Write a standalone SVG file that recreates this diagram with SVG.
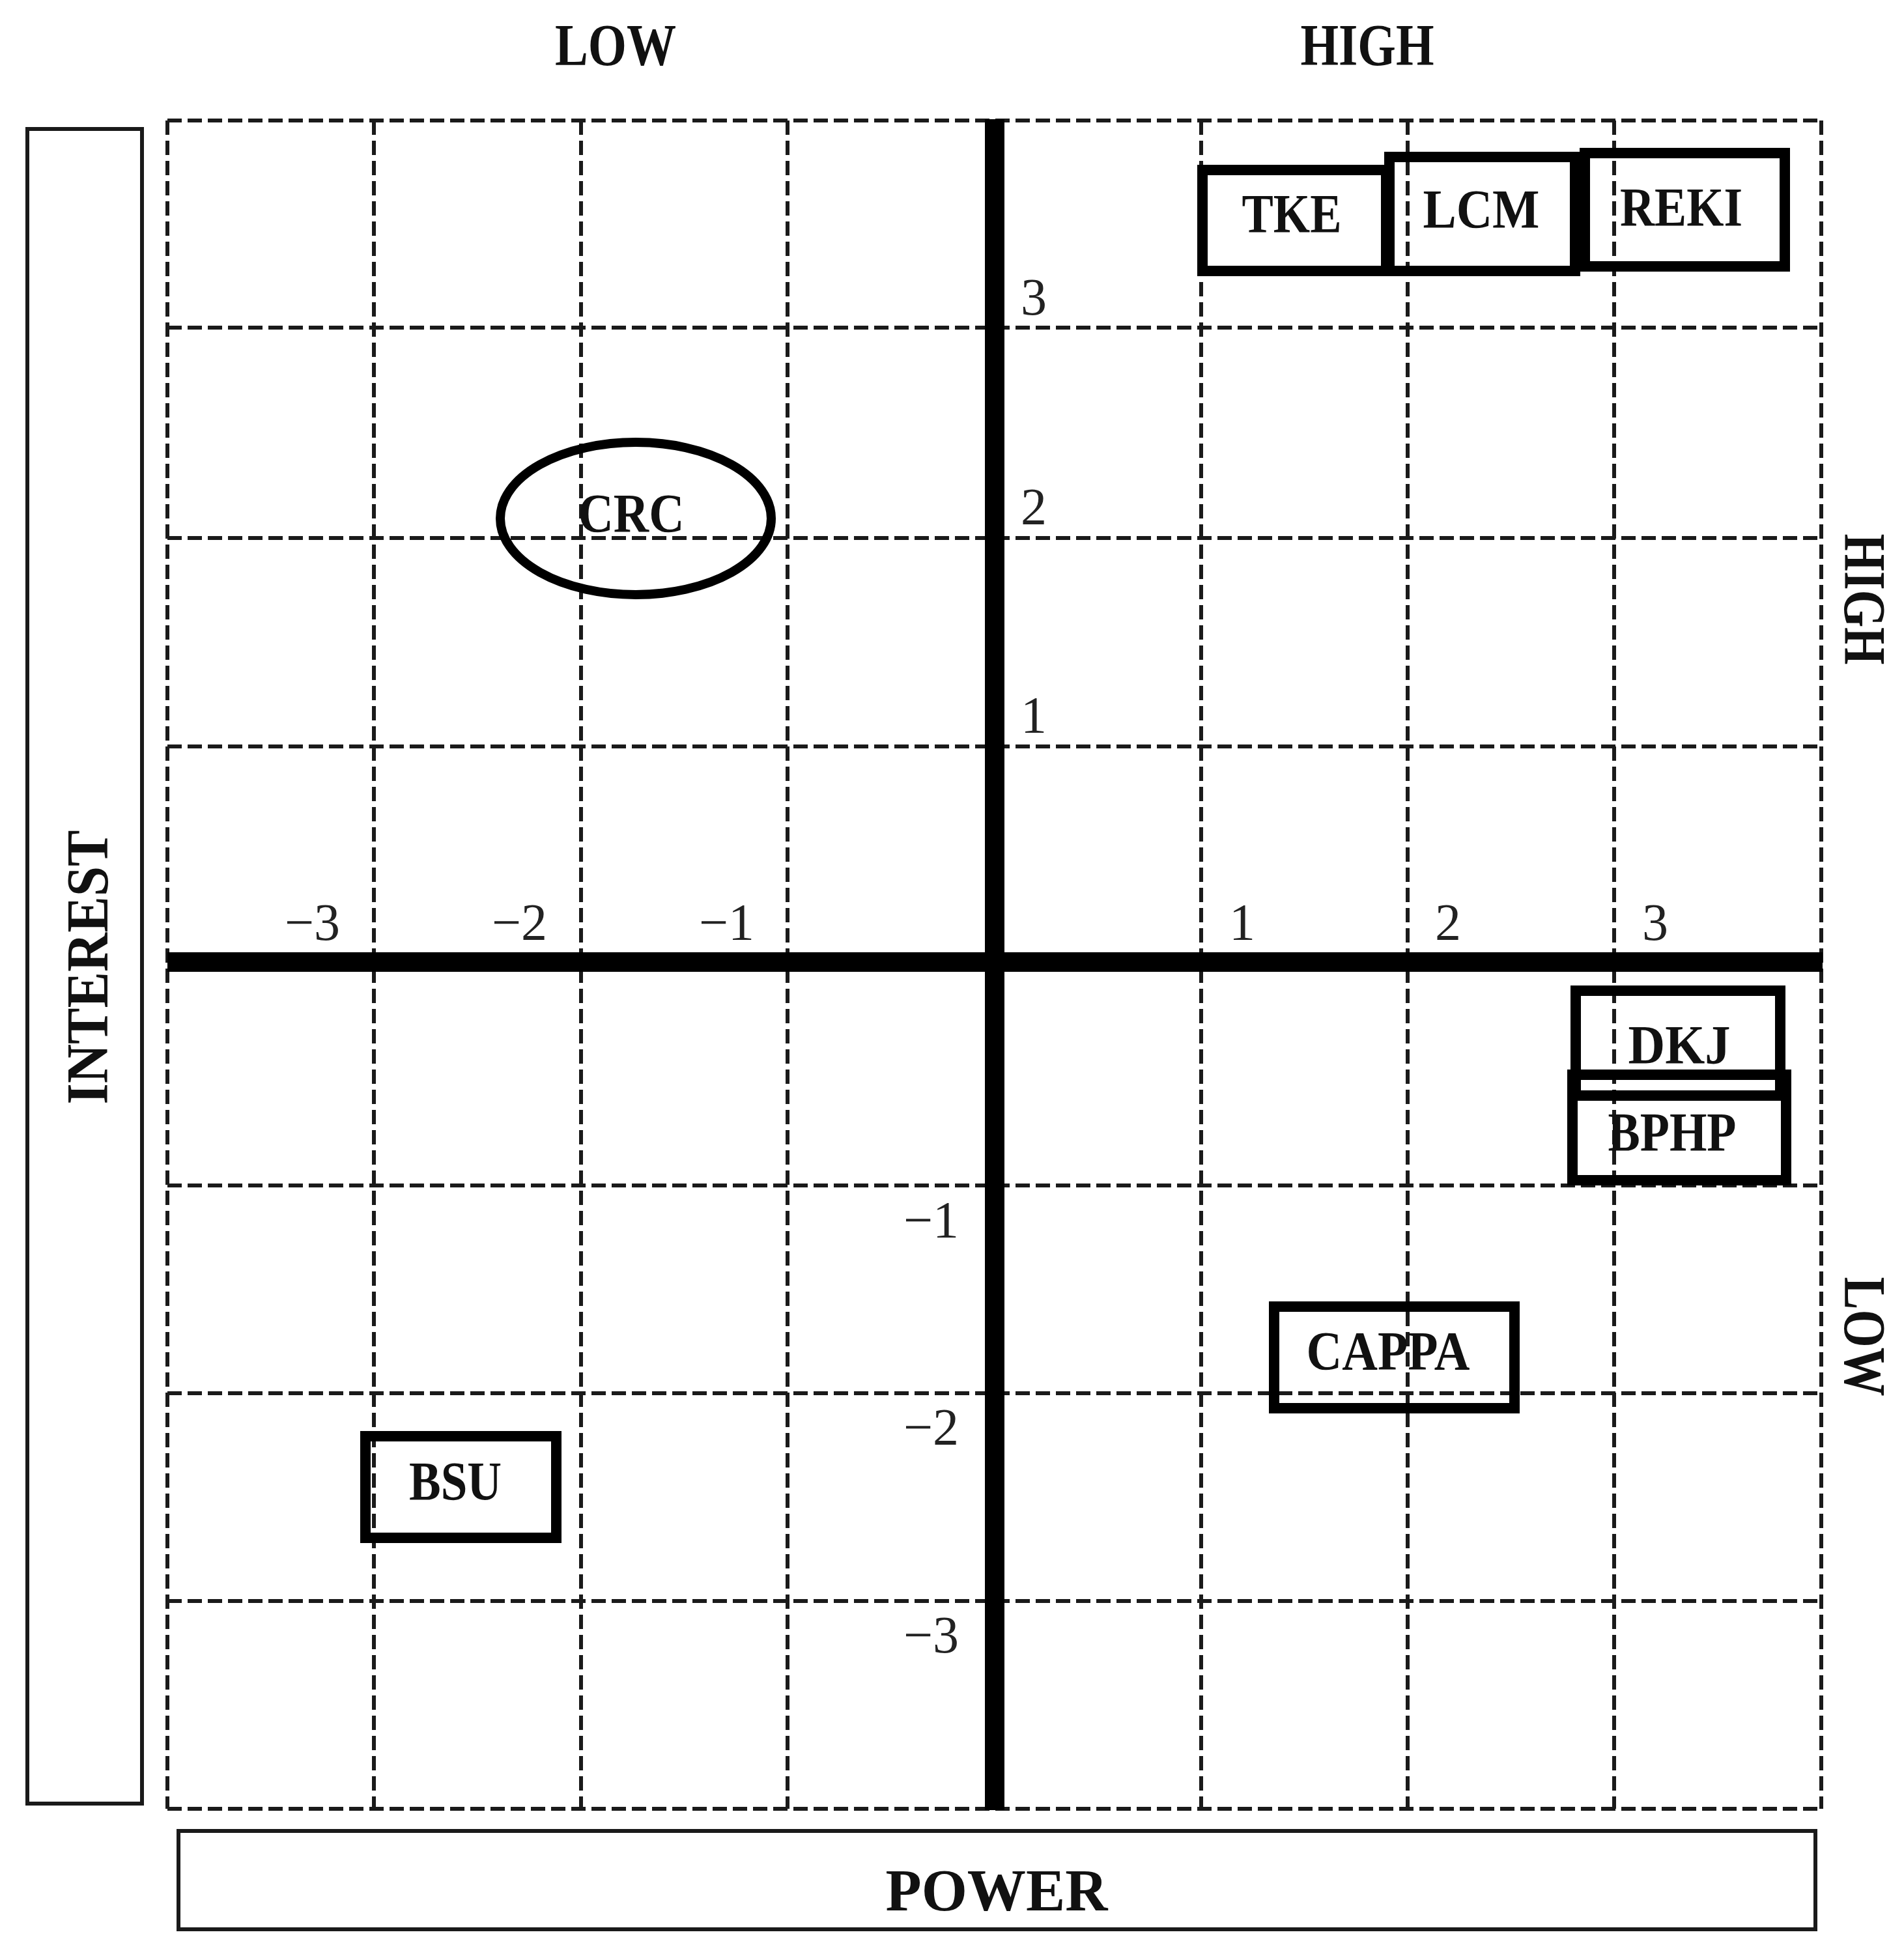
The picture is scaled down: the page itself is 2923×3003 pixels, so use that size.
<svg xmlns="http://www.w3.org/2000/svg" width="2923" height="3003" viewBox="0 0 2923 3003">
<style>
.bg{fill:#fff}
.grid{stroke:#1a1a1a;stroke-width:6;stroke-dasharray:22 9;fill:none}
.axis{stroke:#000;stroke-width:30;fill:none}
.frame{stroke:#1a1a1a;stroke-width:6;fill:none}
.node{stroke:#000;stroke-width:16;fill:none}
.lbl{font-family:"Liberation Serif","Times New Roman",serif;font-weight:bold;fill:#111;font-size:84px}
.big{font-family:"Liberation Serif","Times New Roman",serif;font-weight:bold;fill:#111;font-size:90px}
.num{font-family:"Liberation Serif","Times New Roman",serif;fill:#222;font-size:80px}
</style>
<rect class="bg" x="0" y="0" width="2923" height="3003"/>

<g id="grid">
  <line class="grid" x1="257" y1="185" x2="257" y2="2777"/>
  <line class="grid" x1="574" y1="185" x2="574" y2="2777"/>
  <line class="grid" x1="892" y1="185" x2="892" y2="2777"/>
  <line class="grid" x1="1209" y1="185" x2="1209" y2="2777"/>
  <line class="grid" x1="1844" y1="185" x2="1844" y2="2777"/>
  <line class="grid" x1="2161" y1="185" x2="2161" y2="2777"/>
  <line class="grid" x1="2478" y1="185" x2="2478" y2="2777"/>
  <line class="grid" x1="2796" y1="185" x2="2796" y2="2777"/>
  <line class="grid" x1="257" y1="185" x2="2796" y2="185"/>
  <line class="grid" x1="257" y1="503" x2="2796" y2="503"/>
  <line class="grid" x1="257" y1="826" x2="2796" y2="826"/>
  <line class="grid" x1="257" y1="1146" x2="2796" y2="1146"/>
  <line class="grid" x1="257" y1="1820" x2="2796" y2="1820"/>
  <line class="grid" x1="257" y1="2139" x2="2796" y2="2139"/>
  <line class="grid" x1="257" y1="2458" x2="2796" y2="2458"/>
  <line class="grid" x1="257" y1="2777" x2="2796" y2="2777"/>
</g>

<g id="axes">
  <line class="axis" x1="257" y1="1477" x2="2798" y2="1477"/>
  <line class="axis" x1="1527" y1="183" x2="1527" y2="2779"/>
</g>

<g id="axis-labels">
  <text class="num" x="1567" y="483">3</text>
  <text class="num" x="1567" y="805">2</text>
  <text class="num" x="1567" y="1125">1</text>
  <text class="num" x="1472" y="1900" text-anchor="end">−1</text>
  <text class="num" x="1472" y="2218" text-anchor="end">−2</text>
  <text class="num" x="1472" y="2537" text-anchor="end">−3</text>
  <text class="num" x="522" y="1443" text-anchor="end">−3</text>
  <text class="num" x="840" y="1443" text-anchor="end">−2</text>
  <text class="num" x="1158" y="1443" text-anchor="end">−1</text>
  <text class="num" x="1887" y="1443">1</text>
  <text class="num" x="2203" y="1443">2</text>
  <text class="num" x="2521" y="1443">3</text>
</g>

<g id="top-low"><text class="big" x="945" y="100" text-anchor="middle" textLength="186" lengthAdjust="spacingAndGlyphs">LOW</text></g>
<g id="top-high"><text class="big" x="2099" y="100" text-anchor="middle" textLength="205" lengthAdjust="spacingAndGlyphs">HIGH</text></g>
<g id="right-high"><text class="big" transform="translate(2832,920) rotate(90)" x="0" y="0" text-anchor="middle" textLength="201" lengthAdjust="spacingAndGlyphs">HIGH</text></g>
<g id="right-low"><text class="big" transform="translate(2832,2052) rotate(90)" x="0" y="0" text-anchor="middle" textLength="183" lengthAdjust="spacingAndGlyphs">LOW</text></g>

<g id="interest">
  <rect class="frame" x="42" y="198" width="176" height="2571"/>
  <text class="big" font-size="96" transform="translate(165,1485) rotate(-90)" x="0" y="0" text-anchor="middle" textLength="421" lengthAdjust="spacingAndGlyphs">INTEREST</text>
</g>

<g id="power">
  <rect class="frame" x="274" y="2811" width="2513" height="151"/>
  <text class="big" font-size="96" x="1530" y="2933" text-anchor="middle" textLength="341" lengthAdjust="spacingAndGlyphs">POWER</text>
</g>

<g id="node-tke">
  <rect class="node" x="1846" y="261" width="282" height="155"/>
  <text class="lbl" x="1983" y="357" text-anchor="middle" textLength="153" lengthAdjust="spacingAndGlyphs">TKE</text>
</g>
<g id="node-lcm">
  <rect class="node" x="2133" y="241" width="285" height="175"/>
  <text class="lbl" x="2274" y="350" text-anchor="middle" textLength="179" lengthAdjust="spacingAndGlyphs">LCM</text>
</g>
<g id="node-reki">
  <rect class="node" x="2433" y="235" width="307" height="174"/>
  <text class="lbl" x="2581" y="347" text-anchor="middle" textLength="188" lengthAdjust="spacingAndGlyphs">REKI</text>
</g>
<g id="node-crc">
  <ellipse cx="976" cy="796" rx="208" ry="117" fill="none" stroke="#000" stroke-width="14"/>
  <text class="lbl" x="969" y="817" text-anchor="middle" textLength="163" lengthAdjust="spacingAndGlyphs">CRC</text>
</g>
<g id="node-dkj">
  <rect class="node" x="2419" y="1521" width="314" height="161"/>
  <text class="lbl" x="2578" y="1633" text-anchor="middle" textLength="157" lengthAdjust="spacingAndGlyphs">DKJ</text>
</g>
<g id="node-bphp">
  <rect class="node" x="2414" y="1650" width="328" height="162"/>
  <text class="lbl" x="2567" y="1767" text-anchor="middle" textLength="197" lengthAdjust="spacingAndGlyphs">BPHP</text>
</g>
<g id="node-cappa">
  <rect class="node" x="1956" y="2006" width="369" height="156"/>
  <text class="lbl" x="2131" y="2103" text-anchor="middle" textLength="251" lengthAdjust="spacingAndGlyphs">CAPPA</text>
</g>
<g id="node-bsu">
  <rect class="node" x="561" y="2205" width="293" height="156"/>
  <text class="lbl" x="699" y="2303" text-anchor="middle" textLength="142" lengthAdjust="spacingAndGlyphs">BSU</text>
</g>

<g id="connectors"></g>
</svg>
